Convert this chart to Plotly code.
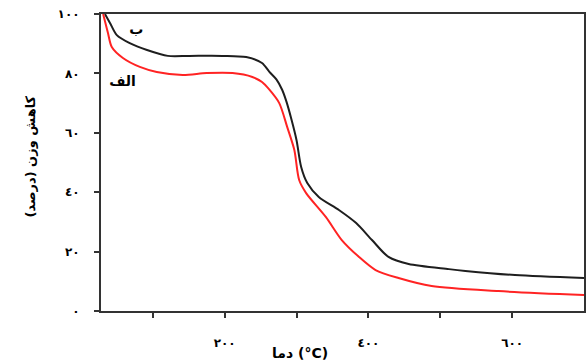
import plotly.graph_objects as go

# Temperature (°C) and weight (%) for sample ب (black)
temp_b = [33.5, 40.5, 50, 68, 92, 121, 151, 197, 230, 252, 262, 272, 280, 286, 293, 300, 306.5, 315, 331, 359, 383, 405, 428, 456, 512, 535, 604, 700]
wt_b = [100, 97.0, 92.9, 90.2, 87.9, 85.9, 85.9, 85.9, 85.5, 83.5, 80.6, 78.0, 74.5, 70.5, 64.5, 57.6, 48.5, 43.1, 38.4, 34.0, 29.6, 23.9, 18.2, 15.8, 14.1, 13.5, 12.1, 11.1]

# Temperature (°C) and weight (%) for sample الف (red)
temp_a = [31, 37.7, 43, 58.5, 82, 105.6, 141.6, 175, 211, 238.6, 252, 262, 276, 287, 297, 303.7, 313.4, 341, 363, 387, 410, 442, 488, 581, 700]
wt_a = [100, 93.6, 88.9, 85.2, 82.2, 80.5, 79.5, 80.1, 80.1, 78.8, 77.1, 74.6, 70.0, 62.0, 54.2, 44.1, 39.7, 31.6, 23.9, 18.2, 13.8, 11.1, 8.4, 6.7, 5.4]

# curve labels
label_text = ["ب", "الف"]
label_x = [77, 58]
label_y = [94.6, 76.8]

x_tickvals = [100, 200, 300, 400, 500, 600]
x_ticktext = ["", "٢٠٠", "", "٤٠٠", "", "٦٠٠"]
y_tickvals = [0, 20, 40, 60, 80, 100]
y_ticktext = ["٠", "٢٠", "٤٠", "٦٠", "٨٠", "١٠٠"]

FONT = "DejaVu Sans"

fig = go.Figure()
fig.add_trace(go.Scatter(x=temp_b, y=wt_b, mode="lines",
                         line=dict(color="#1e1e1e", width=2, shape="spline", smoothing=0.8),
                         showlegend=False, hoverinfo="skip"))
fig.add_trace(go.Scatter(x=temp_a, y=wt_a, mode="lines",
                         line=dict(color="#ff2323", width=2, shape="spline", smoothing=0.8),
                         showlegend=False, hoverinfo="skip"))
fig.add_trace(go.Scatter(x=label_x, y=label_y, mode="text", text=label_text,
                         textposition="middle center",
                         textfont=dict(family=FONT, size=14, color="black", weight="bold"),
                         showlegend=False, hoverinfo="skip"))

# axis titles
fig.add_annotation(xref="paper", yref="paper", x=0.411, y=-0.142, text="دما (°C)",
                   showarrow=False, font=dict(family=FONT, size=14, color="black", weight="bold"),
                   xanchor="center", yanchor="middle")
fig.add_annotation(xref="paper", yref="paper", x=-0.145, y=0.52, text="کاهش وزن (درصد)",
                   showarrow=False, textangle=-90,
                   font=dict(family=FONT, size=13, color="black", weight="bold"),
                   xanchor="center", yanchor="middle")

fig.update_xaxes(range=[28, 700], tickvals=x_tickvals, ticktext=x_ticktext,
                 showline=True, linecolor="#333", linewidth=2, mirror=True,
                 ticks="outside", ticklen=5, tickwidth=2, tickcolor="#333",
                 ticklabelstandoff=15, showgrid=False, zeroline=False,
                 tickfont=dict(family=FONT, size=12, color="black", weight="bold"))
fig.update_yaxes(range=[0, 100], tickvals=y_tickvals, ticktext=y_ticktext,
                 showline=True, linecolor="#333", linewidth=2, mirror=True,
                 ticks="outside", ticklen=5, tickwidth=2, tickcolor="#333",
                 ticklabelstandoff=12, showgrid=False, zeroline=False,
                 tickfont=dict(family=FONT, size=12, color="black", weight="bold"))

fig.update_layout(width=587, height=360, margin=dict(l=101, r=1, t=14, b=49),
                  plot_bgcolor="white", paper_bgcolor="white")

fig.write_html("out.html")
